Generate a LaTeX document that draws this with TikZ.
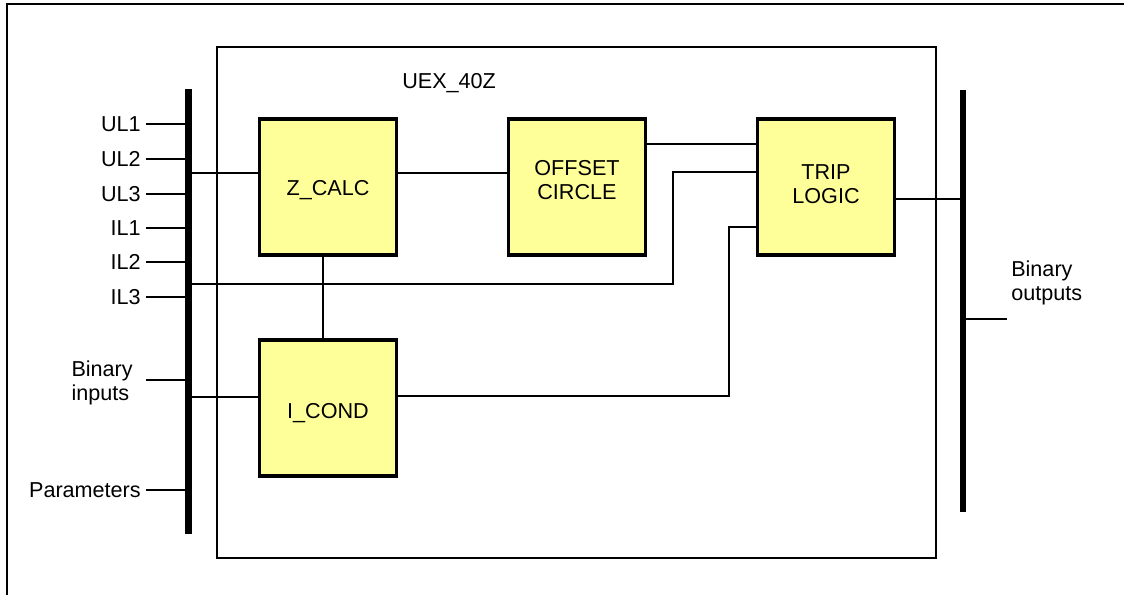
\documentclass[tikz,border=0pt]{standalone}
\usepackage{fontspec}
\setmainfont{Liberation Sans}
\usetikzlibrary{calc}
\definecolor{boxyellow}{HTML}{FFFF99}
\begin{document}
\begin{tikzpicture}[x=0.75pt,y=-0.75pt,
  font=\fontsize{16.2}{18}\selectfont,
  frame/.style={draw=black,line width=1.5pt},
  fblock/.style={draw=black,fill=boxyellow,line width=2.3pt,minimum width=103pt,minimum height=102pt,inner sep=0pt},
  btext/.style={inner sep=0pt,align=center},
  bus/.style={fill=black,inner sep=0pt,minimum width=4.8pt},
  wire/.style={draw=black,line width=1.1pt},
  lbl/.style={inner sep=0pt,align=left}]
\useasboundingbox (0,0) rectangle (1124,595);
% outer frame (only top and left visible)
\draw[frame] (1124,4) -- (7,4) -- (7,595);
% inner box
\draw[frame,line width=1.3pt] (217,47) rectangle (936,558);
\node[lbl,anchor=west] (title) at (402,83) {UEX\_40Z};
% buses
\node[bus,minimum height=333.75pt] (lbus) at (188.5,311.5) {};
\node[bus,minimum height=316.5pt] (rbus) at (963,301) {};
% blocks
\node[fblock] (zcalc) at (328,187) {};
\node[fblock] (offset) at (577,187) {};
\node[fblock] (trip) at (826,187) {};
\node[fblock] (icond) at (328,408) {};
\node[btext] (zcalct) at ($(zcalc.center)+(0,3)$) {Z\_CALC};
\node[btext] (offsett) at ($(offset.center)+(0,-7)$) {OFFSET\\CIRCLE};
\node[btext] (tript) at ($(trip.center)+(0,-3)$) {TRIP\\LOGIC};
\node[btext] (icondt) at ($(icond.center)+(0,5)$) {I\_COND};
% input labels
\node[lbl,anchor=east] (ul1) at (141,124) {UL1};
\node[lbl,anchor=east] (ul2) at (141,159) {UL2};
\node[lbl,anchor=east] (ul3) at (141,194) {UL3};
\node[lbl,anchor=east] (il1) at (141,228) {IL1};
\node[lbl,anchor=east] (il2) at (141,262) {IL2};
\node[lbl,anchor=east] (il3) at (141,297) {IL3};
\node[lbl,anchor=east] (binin) at (133,383) {Binary\\inputs};
\node[lbl,anchor=east] (param) at (141,490) {Parameters};
\node[lbl,anchor=west] (binout) at (1011,283) {Binary\\outputs};
% input stubs
\foreach \n in {ul1,ul2,ul3,il1,il2,il3,param}
  \draw[wire] ($(\n.east)+(5,0)$) -- (lbus.west |- \n.east);
\draw[wire] (146,380) coordinate (binstub) -- (lbus.west |- binstub);
\draw[wire] (rbus.east |- 0,319) -- (1007,319) coordinate (boutstub);
% connections
\draw[wire] (lbus.east |- 0,173) -- (zcalc.west |- 0,173);
\draw[wire] (zcalc.east |- 0,173) -- (offset.west |- 0,173);
\draw[wire] (offset.east |- 0,144) -- (trip.west |- 0,144);
\draw[wire] (lbus.east |- 0,284) -- (673,284) -- (673,172) -- (trip.west |- 0,172);
\draw[wire] (icond.east |- 0,396) -- (729,396) -- (729,227) -- (trip.west |- 0,227);
\draw[wire] (lbus.east |- 0,397) -- (icond.west |- 0,397);
\draw[wire] (zcalc.south -| 323,0) -- (icond.north -| 323,0);
\draw[wire] (trip.east |- 0,199) -- (rbus.west |- 0,199);
\end{tikzpicture}
\end{document}
